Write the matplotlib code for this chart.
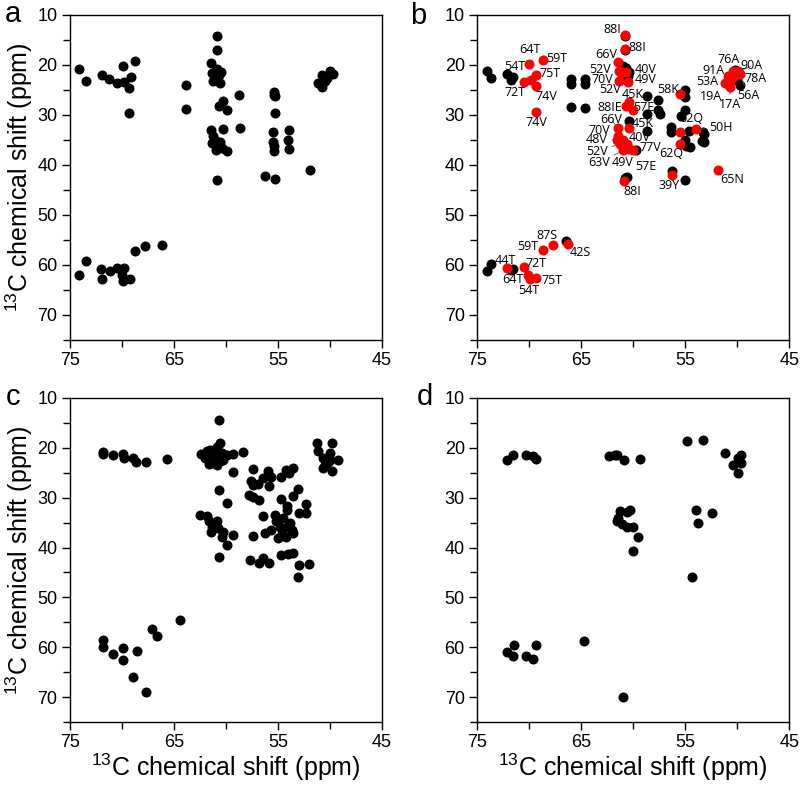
import matplotlib
matplotlib.use("Agg")
import matplotlib.pyplot as plt
from matplotlib.ticker import MultipleLocator

plt.rcParams['font.family'] = ['Liberation Sans', 'DejaVu Sans']
plt.rcParams['mathtext.fontset'] = 'custom'
plt.rcParams['mathtext.rm'] = 'Liberation Sans'

# ---------------- Panel a ----------------
a_x = [74.13, 73.5, 71.95, 71.25, 70.5, 69.87, 69.84, 69.3, 69.16, 68.74, 69.3,
       63.87, 63.84, 60.88, 60.82, 61.43, 61.37, 61.27, 60.88, 60.72, 60.5, 60.56, 61.0,
       60.3, 60.72, 59.95, 58.73, 58.7, 60.27, 61.43, 61.27, 61.37, 61.0, 60.56, 60.95,
       60.4, 59.9, 60.82, 55.43, 55.27, 55.4, 55.33, 55.5, 55.5, 55.43, 55.37, 53.9, 54.0,
       53.96, 56.23, 55.33, 51.96, 51.2, 50.78, 50.78, 50.46, 50.3, 49.98, 49.75, 51.0,
       74.13, 73.5, 72.05, 71.9, 71.2, 70.5, 69.77, 69.96, 69.93, 69.23, 68.74, 67.75, 66.18]
a_y = [20.9, 23.3, 22.1, 22.9, 23.7, 20.2, 23.5, 24.6, 22.5, 19.2, 29.7,
       24.1, 28.9, 14.2, 17.1, 19.7, 21.7, 23.2, 20.9, 22.0, 21.5, 23.7, 22.7,
       27.3, 28.3, 29.1, 26.1, 32.6, 32.8, 33.0, 34.3, 35.7, 35.3, 35.5, 37.0,
       36.7, 37.3, 43.0, 25.5, 26.3, 26.0, 29.7, 33.5, 35.5, 36.2, 37.3, 33.0, 35.1,
       36.8, 42.3, 42.9, 41.1, 23.7, 22.0, 24.5, 23.3, 22.7, 21.3, 21.9, 23.8,
       62.1, 59.3, 60.9, 62.8, 61.3, 60.7, 60.7, 62.1, 63.2, 62.8, 57.3, 56.2, 56.0]

# ---------------- Panel b ----------------
b_black_x = [74.04, 73.72, 74.04, 73.72, 72.1, 71.76, 71.54, 71.8, 71.54,
             66.0, 66.0, 64.65, 64.65, 66.0, 64.65, 66.47,
             60.8, 60.8, 61.0, 60.7, 60.45, 61.2, 60.55, 60.9,
             58.7, 57.63, 58.7, 57.6, 57.4, 60.38, 58.7, 59.7, 60.6, 60.75,
             55.0, 55.0, 55.03, 55.45, 56.4, 56.4, 54.6, 53.3, 53.2, 55.03, 54.96,
             54.55, 53.4, 53.2, 55.03, 56.25, 49.74, 50.2, 50.06]
b_black_y = [21.2, 22.6, 61.3, 59.8, 21.8, 23.0, 22.5, 61.0, 60.9,
             22.9, 23.9, 22.9, 23.9, 28.5, 28.7, 55.3,
             14.2, 17.0, 20.2, 20.7, 21.5, 21.3, 22.2, 22.0,
             26.3, 27.0, 29.9, 29.0, 29.8, 31.3, 33.2, 37.1, 42.5, 42.6,
             25.0, 26.5, 29.0, 30.3, 32.5, 33.5, 33.3, 33.5, 33.8, 35.0, 36.3,
             36.5, 35.3, 35.5, 43.1, 41.3, 24.0, 21.1, 23.0]

b_red_x = [60.77, 60.83, 61.44, 61.4, 61.2, 60.7, 61.35, 60.5,
           70.06, 68.7, 69.36, 70.5, 69.87, 69.36, 69.36,
           60.38, 60.7, 60.0, 61.47, 60.38, 61.44, 61.6, 61.28, 61.03, 60.9, 60.64,
           60.96, 60.0, 60.4, 60.87, 56.3, 55.5, 55.5, 53.97, 55.5, 51.9,
           50.87, 50.7, 50.4, 51.2, 50.7, 49.9, 49.74, 50.4,
           72.18, 70.5, 70.1, 69.94, 69.36, 68.7, 67.76, 66.25]
b_red_y = [14.0, 16.9, 19.5, 21.3, 21.7, 21.5, 23.2, 23.5,
           19.9, 19.0, 22.1, 23.4, 23.0, 24.2, 29.5,
           27.5, 28.2, 29.0, 32.7, 32.7, 34.3, 35.0, 35.8, 35.0, 36.3, 35.8,
           37.1, 37.1, 36.9, 43.2, 42.1, 33.5, 35.9, 32.9, 25.9, 41.0,
           22.2, 23.2, 22.5, 23.7, 24.5, 21.3, 21.8, 21.3,
           60.7, 60.5, 62.0, 62.9, 62.7, 57.1, 56.0, 55.9]

# labels: text, x, y, index of red point for a leader line (-1 = none)
b_lab_text = ['88I', '88I', '64T', '59T', '54T', '75T', '72T', '74V', '74V',
              '66V', '52V', '70V', '52V', '40V', '49V', '45K', '88IE', '57E',
              '66V', '45K', '70V', '48V', '40V', '52V', '77V', '62Q', '63V', '49V',
              '57E', '88I', '39Y', '65N', '58K', '62Q', '50H',
              '76A', '90A', '91A', '78A', '53A', '19A', '56A', '17A',
              '87S', '59T', '42S', '44T', '72T', '64T', '75T', '54T']
b_lab_x = [62.0, 59.6, 69.94, 67.4, 71.4, 68.0, 71.4, 68.4, 69.36,
           62.56, 63.2, 62.95, 62.2, 58.78, 58.78, 60.06, 62.3, 58.97,
           62.08, 59.1, 63.27, 63.5, 59.36, 63.5, 58.4, 56.3, 63.3, 61.0,
           58.78, 60.06, 56.6, 50.5, 56.6, 54.4, 51.6,
           50.87, 48.6, 52.3, 48.2, 52.9, 52.5, 48.94, 50.7,
           68.27, 70.1, 65.13, 72.3, 69.36, 71.54, 67.85, 70.0]
b_lab_y = [13.0, 16.5, 17.0, 18.7, 20.3, 21.8, 25.5, 26.3, 31.5,
           18.0, 20.9, 23.0, 25.0, 20.9, 23.0, 26.0, 28.5, 28.5,
           31.0, 31.7, 33.1, 34.9, 34.5, 37.3, 36.5, 37.8, 39.5, 39.5,
           40.3, 45.3, 44.2, 42.9, 25.0, 30.7, 32.5,
           19.0, 20.2, 21.2, 22.8, 23.3, 26.3, 26.2, 28.0,
           54.1, 56.3, 57.5, 59.1, 59.8, 62.9, 63.2, 65.2]
b_lab_link = [-1, -1, 8, -1, 12, 10, -1, -1, -1,
              -1, 3, 6, -1, 5, 7, -1, -1, -1,
              18, -1, 20, 21, 23, 22, 27, 32, 26, 28,
              27, -1, -1, -1, -1, 31, 33,
              43, 41, 36, 42, 39, 39, 42, 40,
              -1, -1, -1, -1, -1, -1, -1, -1]

# ---------------- Panel c ----------------
c_x = [71.86, 71.86, 70.84, 69.88, 69.81, 68.92, 68.66, 67.7, 65.65,
       60.65, 62.45, 62.03, 61.7, 61.6, 61.5, 61.23, 61.07, 60.98, 60.85, 60.75, 60.6,
       60.6, 60.43, 60.27, 59.95, 59.3, 58.4, 61.36, 61.87, 60.91, 60.33,
       59.3, 60.65, 59.95,
       62.51, 61.87, 61.6, 60.91, 61.3, 61.4, 60.75, 60.33, 60.43, 59.3, 59.95, 60.65,
       57.39, 57.64, 57.39, 56.9, 56.43, 55.95, 55.63, 55.85, 57.77, 57.39, 56.81,
       56.43, 57.39, 56.27, 57.7, 56.81, 56.43, 55.85,
       54.67, 54.25, 53.55, 53.9, 53.07, 54.67, 53.55, 54.12, 54.12, 55.3, 55.15,
       54.83, 55.63, 54.99, 54.6, 54.25, 54.18, 53.87, 53.68, 53.55, 54.5, 53.0,
       52.33, 52.33, 54.67, 54.03, 53.55, 53.0, 52.0, 53.07,
       51.24, 51.15, 50.67, 50.5, 50.67, 50.2, 49.77, 49.96, 50.03, 49.77, 49.23,
       71.86, 71.86, 70.84, 69.88, 69.88, 68.6, 68.92, 67.7, 67.15, 66.61, 64.43]
c_y = [20.8, 21.2, 21.5, 21.2, 22.0, 22.0, 22.9, 22.9, 22.2,
       14.5, 21.2, 22.0, 21.4, 23.2, 20.4, 21.7, 20.7, 22.5, 19.9, 21.6, 19.0,
       22.7, 21.0, 22.0, 21.4, 21.2, 20.8, 23.0, 20.7, 23.4, 22.4,
       24.8, 28.4, 31.1,
       33.4, 33.7, 34.7, 34.7, 35.8, 36.8, 36.1, 36.8, 37.8, 37.4, 39.4, 42.0,
       24.2, 26.6, 27.4, 27.3, 26.1, 24.7, 25.9, 27.7, 29.5, 29.9, 30.4,
       33.7, 37.6, 37.1, 42.6, 43.1, 42.1, 43.2,
       25.9, 24.5, 24.0, 25.1, 28.3, 30.3, 29.7, 31.7, 32.5, 33.4, 34.7,
       35.8, 36.4, 38.0, 37.2, 37.8, 35.8, 35.1, 36.4, 37.1, 34.1, 33.1,
       31.3, 33.1, 41.6, 41.2, 41.1, 43.6, 43.4, 46.0,
       19.0, 20.7, 22.0, 23.4, 24.0, 22.9, 19.0, 21.0, 22.5, 24.7, 22.5,
       58.5, 60.0, 61.4, 60.2, 62.6, 60.8, 65.9, 68.9, 56.4, 57.8, 54.6]

# ---------------- Panel d ----------------
d_x = [72.18, 71.6, 70.32, 69.68, 69.36, 62.31, 61.76, 61.54, 60.9, 59.36,
       54.87, 53.27, 51.19, 50.4, 49.9, 49.68, 49.68, 49.9,
       61.28, 60.64, 60.32, 61.44, 61.54, 61.12, 60.58, 60.0, 59.52, 60.0,
       53.97, 52.47, 53.75, 54.39,
       72.18, 71.6, 71.47, 70.32, 69.68, 69.36, 64.71, 61.03]
d_y = [22.5, 21.4, 21.4, 21.7, 22.2, 21.7, 21.4, 21.5, 22.4, 22.2,
       18.7, 18.4, 21.0, 23.4, 22.0, 21.4, 23.0, 25.1,
       32.7, 32.9, 32.5, 34.1, 34.7, 35.2, 35.8, 35.8, 37.8, 40.6,
       32.4, 33.1, 35.1, 46.0,
       61.0, 61.8, 59.6, 61.8, 62.3, 59.5, 58.8, 69.9]

x_ticks = [75, 65, 55, 45]
y_ticks = [10, 20, 30, 40, 50, 60, 70]
axis_label = r'$\mathregular{^{13}}$C chemical shift (ppm)'

fig = plt.figure(figsize=(8.0, 7.85), dpi=100)
pos = {'a': [0.0875, 0.5669, 0.39, 0.414],
       'b': [0.5966, 0.5669, 0.39, 0.414],
       'c': [0.0875, 0.0803, 0.39, 0.4127],
       'd': [0.5966, 0.0803, 0.39, 0.4127]}
axes = {k: fig.add_axes(v) for k, v in pos.items()}

MS = 6.2
for k, ax in axes.items():
    ax.set_xlim(75, 45)
    ax.set_ylim(75, 10)
    ax.set_xticks(x_ticks)
    ax.set_yticks(y_ticks)
    ax.xaxis.set_minor_locator(MultipleLocator(5))
    ax.yaxis.set_minor_locator(MultipleLocator(5))
    ax.tick_params(which='both', direction='out', length=6, width=1, labelsize=13, pad=3)
    ax.tick_params(which='minor', length=5)
    ax.tick_params(top=False, right=False)
    for s in ax.spines.values():
        s.set_linewidth(1.0)

axes['a'].plot(a_x, a_y, 'o', color='black', ms=MS, ls='none')
axes['b'].plot(b_black_x, b_black_y, 'o', color='black', ms=MS, ls='none', zorder=3)
axes['b'].plot(b_red_x, b_red_y, 'o', color='#ff0000', ms=MS, ls='none', zorder=4)
axes['c'].plot(c_x, c_y, 'o', color='black', ms=MS, ls='none')
axes['d'].plot(d_x, d_y, 'o', color='black', ms=MS, ls='none')

for t, lx, ly, li in zip(b_lab_text, b_lab_x, b_lab_y, b_lab_link):
    if li >= 0:
        axes['b'].annotate(t, xy=(b_red_x[li], b_red_y[li]), xytext=(lx, ly),
                           ha='center', va='center', fontsize=9,
                           family=['Open Sans', 'DejaVu Sans'], zorder=5,
                           arrowprops=dict(arrowstyle='-', lw=0.6, color='0.35',
                                           shrinkA=1, shrinkB=3))
    else:
        axes['b'].text(lx, ly, t, ha='center', va='center', fontsize=9,
                       family=['Open Sans', 'DejaVu Sans'], zorder=5)

for k in ['a', 'c']:
    axes[k].set_ylabel(axis_label, fontsize=18)
    axes[k].yaxis.set_label_coords(-0.112, 0.5)
for k in ['c', 'd']:
    axes[k].set_xlabel(axis_label, fontsize=18)
    axes[k].xaxis.set_label_coords(0.5, -0.09)

fig.text(0.016, 0.982, 'a', fontsize=21, ha='center', va='center')
fig.text(0.523, 0.980, 'b', fontsize=21, ha='center', va='center')
fig.text(0.016, 0.494, 'c', fontsize=21, ha='center', va='center')
fig.text(0.531, 0.494, 'd', fontsize=21, ha='center', va='center')

fig.savefig('out.png', dpi=100)
